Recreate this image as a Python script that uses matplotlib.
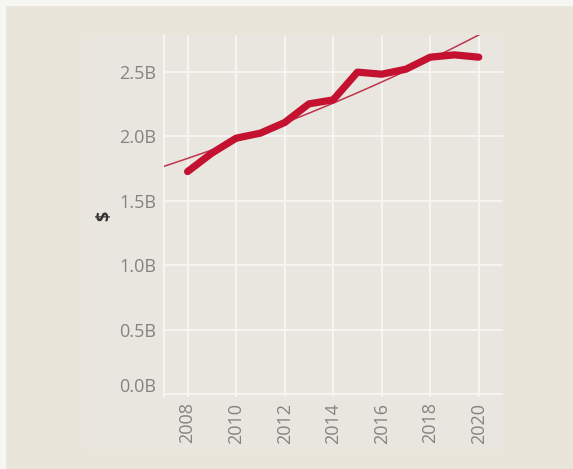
import numpy as np
import matplotlib
matplotlib.use("Agg")
import matplotlib.pyplot as plt
import matplotlib.transforms as mtransforms
from matplotlib.patches import Rectangle
from matplotlib.ticker import FuncFormatter

plt.rcParams['font.family'] = ['Open Sans', 'DejaVu Sans']

years = [2008, 2009, 2010, 2011, 2012, 2013, 2014, 2015, 2016, 2017, 2018, 2019, 2020]
values_b = [1.727, 1.870, 1.986, 2.025, 2.107, 2.252, 2.283, 2.498, 2.482, 2.521, 2.614, 2.632, 2.614]
y_ticks_b = [0.0, 0.5, 1.0, 1.5, 2.0, 2.5]
x_ticks = [2008, 2010, 2012, 2014, 2016, 2018, 2020]

W, H = 573, 469
fig = plt.figure(figsize=(W / 100, H / 100), dpi=100, facecolor='#f6f6f2')

# outer panel and inner plot region backgrounds
fig.patches.append(Rectangle((6 / W, 0), 1 - 6 / W, 1 - 6 / H, transform=fig.transFigure,
                             facecolor='#e9e5db', edgecolor='none', zorder=-10))
fig.patches.append(Rectangle((84 / W, 1 - 450 / H), (505 - 84) / W, (450 - 36) / H,
                             transform=fig.transFigure, facecolor='#e8e6df', edgecolor='none', zorder=-9))

left, right, top, bottom = 164.3, 503, 35, 397
ax = fig.add_axes([left / W, 1 - bottom / H, (right - left) / W, (bottom - top) / H])
ax.set_facecolor('none')

ax.set_xlim(2007.04, 2021.0)
ax.set_ylim(-0.021, 2.786)

ax.set_xticks(x_ticks)
ax.set_yticks(y_ticks_b)
ax.yaxis.set_major_formatter(FuncFormatter(lambda v, p: f"{v:.1f}B"))
ax.grid(True, color='#f7f6f2', linewidth=1.3, zorder=0)
ax.set_axisbelow(True)
for s in ['top', 'right', 'bottom']:
    ax.spines[s].set_visible(False)
ax.spines['left'].set_color('#f7f6f2')
ax.spines['left'].set_linewidth(1.3)

ax.tick_params(axis='both', length=0, colors='#838383', labelsize=13)
ax.tick_params(axis='y', pad=6)
ax.tick_params(axis='x', pad=4)
for lbl in ax.get_xticklabels():
    lbl.set_rotation(90)

# lift the 0.0B label slightly like the reference
lbls = ax.get_yticklabels()
lbls[0].set_transform(lbls[0].get_transform() +
                      mtransforms.ScaledTranslation(0, 9 / 100, fig.dpi_scale_trans))

ax.set_ylabel('$', color='#333333', fontsize=13, fontweight='bold', labelpad=4)

# exponential trend line
yrs = np.array(years, dtype=float)
vals = np.array(values_b)
b, a = np.polyfit(yrs, np.log(vals), 1)
tx = np.linspace(2007.04, 2021.0, 200)
ax.plot(tx, np.exp(a + b * tx), color='#c0334d', linewidth=1.1, zorder=3)

ax.plot(years, values_b, color='#c4112f', linewidth=5.2, solid_joinstyle='round',
        solid_capstyle='round', zorder=4)

fig.savefig('out.png', dpi=100, facecolor=fig.get_facecolor())
